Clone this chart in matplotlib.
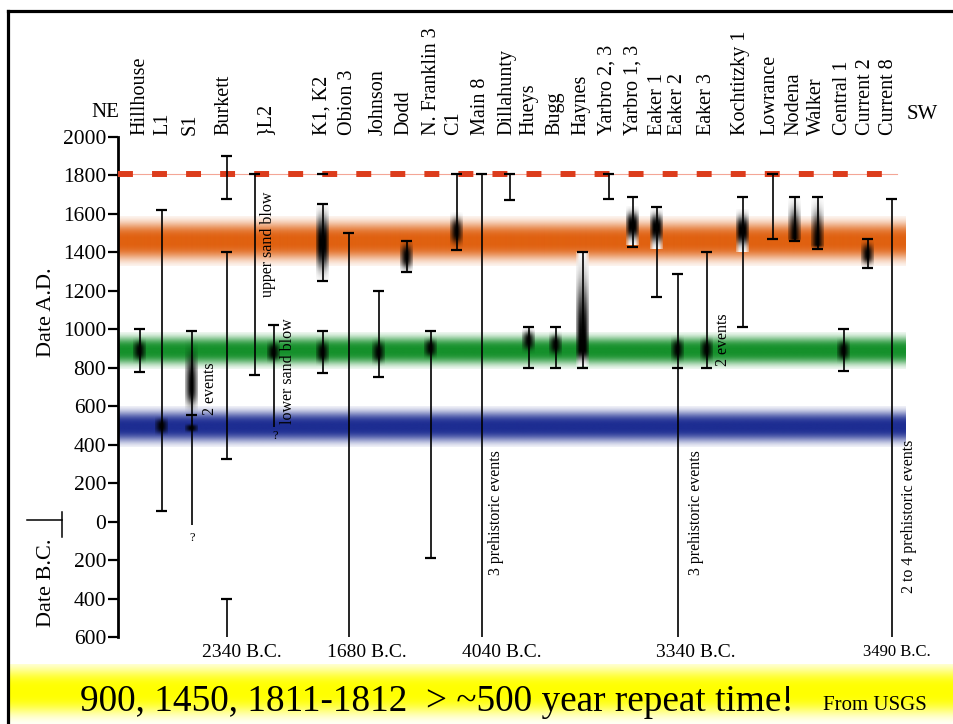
import numpy as np
import matplotlib
matplotlib.use('Agg')
import matplotlib.pyplot as plt
from matplotlib.lines import Line2D

plt.rcParams['font.family'] = ['Liberation Serif', 'DejaVu Serif']

# sites along the NE -> SW transect
site_names = ['Hillhouse', 'L1', 'S1', 'Burkett', '}L2', 'K1, K2', 'Obion 3', 'Johnson',
              'Dodd', 'N. Franklin 3', 'C1', 'Main 8', 'Dillahunty', 'Hueys', 'Bugg',
              'Haynes', 'Yarbro 2, 3', 'Yarbro 1, 3', 'Eaker 1', 'Eaker 2', 'Eaker 3',
              'Kochtitzky 1', 'Lowrance', 'Nodena', 'Walker', 'Central 1', 'Current 2',
              'Current 8']
site_x = [140, 163, 190, 224, 265, 322, 348, 378, 404, 432, 454, 481, 507, 529, 555, 581,
          607, 633, 658, 678, 707, 741, 770, 794, 816, 843, 866, 889]

# age ranges (years A.D., negative = B.C.)
bar_x = [140, 162, 192, 227, 227, 227, 255, 274, 323, 323, 349, 379, 407, 431, 457, 482,
         510, 529, 556, 583, 609, 633, 657, 678, 707, 743, 773, 795, 818, 844, 868, 892]
bar_top = [1000, 1620, 990, 1900, 1400, -400, 1806, 1020, 1650, 990, 1500, 1200, 1460, 990,
           1806, 1806, 1806, 1010, 1010, 1400, 1806, 1690, 1635, 1290, 1400, 1690, 1806,
           1690, 1690, 1000, 1470, 1680]
bar_bot = [780, 55, -20, 1680, 325, -600, 760, 490, 1250, 775, -600, 750, 1300, -190, 1410,
           -600, 1675, 800, 800, 800, 1680, 1430, 1170, -600, 800, 1010, 1470, 1460, 1420,
           785, 1320, -600]
bar_open = [False, False, True, False, False, True, False, True, False, False, True, False,
            False, False, False, True, False, False, False, False, False, False, False, True,
            False, False, False, False, False, False, False, True]
extra_cap_x = [192, 678, 323]
extra_cap_y = [555, 800, 1806]

# most likely event ages (shaded)
blob_x = [140, 162, 192, 192, 274, 323, 323, 379, 407, 431, 457, 529, 556, 583, 633, 657,
          678, 707, 743, 795, 818, 844, 868]
blob_peak = [890, 495, 700, 487, 880, 1450, 880, 880, 1380, 900, 1510, 940, 920, 900, 1540,
             1530, 895, 895, 1510, 1475, 1445, 890, 1390]
blob_lo = [820, 445, 560, 462, 820, 1250, 810, 810, 1290, 840, 1420, 870, 850, 810, 1440,
           1420, 820, 820, 1400, 1455, 1420, 820, 1320]
blob_hi = [960, 545, 950, 512, 950, 1650, 960, 960, 1470, 960, 1610, 1010, 990, 1400, 1640,
           1630, 970, 970, 1620, 1690, 1690, 960, 1470]
blob_white = [False, False, False, False, False, True, False, False, False, False, False,
              False, False, True, True, True, False, False, True, False, False, False, False]

# earthquake clusters
band_peak = [1460, 890, 495]
band_half = [130, 95, 105]
band_color = ['#e0600f', '#14902a', '#1c2c92']

quake_1811 = 1806

bc_site_x = [227, 349, 482, 678, 892]
bc_labels = ['2340 B.C.', '1680 B.C.', '4040 B.C.', '3340 B.C.', '3490 B.C.']

fig = plt.figure(figsize=(9.54, 7.24), dpi=100)
ax = fig.add_axes([0, 0, 1, 1])
ax.set_facecolor('none')


def gradient(d, scale=0.65, p=3):
    return np.exp(-(np.abs(d) / scale) ** p)


# coloured bands
for peak, half, col in zip(band_peak, band_half, band_color):
    ys = np.linspace(-1, 1, 200)
    rgba = np.zeros((200, 2, 4))
    rgba[..., :3] = matplotlib.colors.to_rgb(col)
    rgba[..., 3] = gradient(ys, 0.72, 3)[:, None]
    ax.imshow(rgba, extent=[118, 906, peak - half, peak + half], origin='lower',
              aspect='auto', interpolation='bilinear', zorder=1)

# shaded blobs
for x, pk, lo, hi, white in zip(blob_x, blob_peak, blob_lo, blob_hi, blob_white):
    ys = np.linspace(lo, hi, 200)
    d = np.where(ys >= pk, (ys - pk) / max(hi - pk, 1), (pk - ys) / max(pk - lo, 1))
    ay = gradient(d)
    xs = np.linspace(-1, 1, 21)
    ax_ = np.exp(-(xs / 0.9) ** 2)
    rgba = np.zeros((200, 21, 4))
    if white:
        rgba[..., :3] = (1 - ay)[:, None, None]
        rgba[..., 3] = np.clip(ax_ * 1.3, 0, 1)[None, :]
    else:
        rgba[..., 3] = ay[:, None] * ax_[None, :]
    ax.imshow(rgba, extent=[x - 6.5, x + 6.5, lo, hi], origin='lower', aspect='auto',
              interpolation='bilinear', zorder=3)

# 1811-1812 line
ax.plot([118, 897], [quake_1811] * 2, color='#f4a696', lw=0.8, zorder=4)
ax.plot([118, 897], [quake_1811] * 2, color='#dc3c1c', lw=4.3, dashes=(2.5, 3.2), zorder=4)

# range bars
ax.vlines(bar_x, bar_bot, bar_top, color='black', lw=1.2, zorder=5)
caps_x, caps_y = [], []
for x, t, b, op in zip(bar_x, bar_top, bar_bot, bar_open):
    caps_x.append(x)
    caps_y.append(t)
    if not op:
        caps_x.append(x)
        caps_y.append(b)
caps_x += extra_cap_x
caps_y += extra_cap_y
ax.hlines(caps_y, np.array(caps_x) - 5.5, np.array(caps_x) + 5.5, color='black', lw=1.6,
          zorder=5)

# axis
ax.set_xlim(0, 954)
ax.set_ylim(-1052.4, 2712.4)
ax.xaxis.set_visible(False)
for s in ['top', 'right', 'bottom']:
    ax.spines[s].set_visible(False)
ax.spines['left'].set_position(('data', 118))
ax.spines['left'].set_bounds(-600, 2000)
ax.spines['left'].set_linewidth(2)
ticks = list(range(-600, 2001, 200))
ax.set_yticks(ticks)
ax.set_yticklabels([str(abs(t)) for t in ticks], fontsize=15.5)
ax.tick_params(axis='y', length=7, width=1.6, pad=1.5)

# site labels
for name, x in zip(site_names, site_x):
    ax.text(x, 2012, name, rotation=90, ha='center', va='bottom', fontsize=14.5)
ax.text(105, 2125, 'NE', ha='center', va='center', fontsize=15)
ax.text(922, 2115, 'SW', ha='center', va='center', fontsize=15)

ax.text(47, 1090, 'Date A.D.', rotation=90, ha='center', va='center', fontsize=16)
ax.text(47, -320, 'Date B.C.', rotation=90, ha='center', va='center', fontsize=16)
ax.plot([27, 62], [10, 10], color='black', lw=1.1)
ax.plot([62, 62], [50, -80], color='black', lw=1.1)

# notes
note_kw = dict(rotation=90, ha='center', va='center', fontsize=11.5, zorder=6)
ax.text(210, 690, '2 events', **note_kw)
ax.text(268, 1440, 'upper sand blow', **note_kw)
ax.text(288, 780, 'lower sand blow', **note_kw)
ax.text(496, 45, '3 prehistoric events', **note_kw)
ax.text(696, 45, '3 prehistoric events', **note_kw)
ax.text(723, 945, '2 events', **note_kw)
ax.text(909, 30, '2 to 4 prehistoric events', **note_kw)
ax.text(192, -85, '?', ha='center', va='center', fontsize=9)
ax.text(275, 445, '?', ha='center', va='center', fontsize=9)

bc_offset = [15, 18, 20, 18, 5]
for x, lab, off in zip(bc_site_x, bc_labels, bc_offset):
    ax.text(x + off, -680, lab, ha='center', va='center',
            fontsize=12 if lab == '3490 B.C.' else 14)

# yellow banner
ys = np.linspace(-1, 1, 200)
rgba = np.zeros((200, 2, 4))
rgba[..., :3] = (1, 1, 0)
rgba[..., 3] = gradient(ys - 0.1, 0.75, 3)[:, None]
ax.imshow(rgba, extent=[8, 954, -1052, -740], origin='lower', aspect='auto',
          interpolation='bilinear', zorder=1)
ax.text(80, -985, '900, 1450, 1811-1812  > ~500 year repeat time!', ha='left',
        va='baseline', fontsize=26.8)
ax.text(823, -980, 'From USGS', ha='left', va='baseline', fontsize=15)

# frame
fig.add_artist(Line2D([8 / 954, 1], [1 - 10.5 / 724] * 2, color='black', lw=2.3))
fig.add_artist(Line2D([8 / 954] * 2, [0, 1 - 10.5 / 724], color='black', lw=2.3))

plt.savefig('out.png', dpi=100)
